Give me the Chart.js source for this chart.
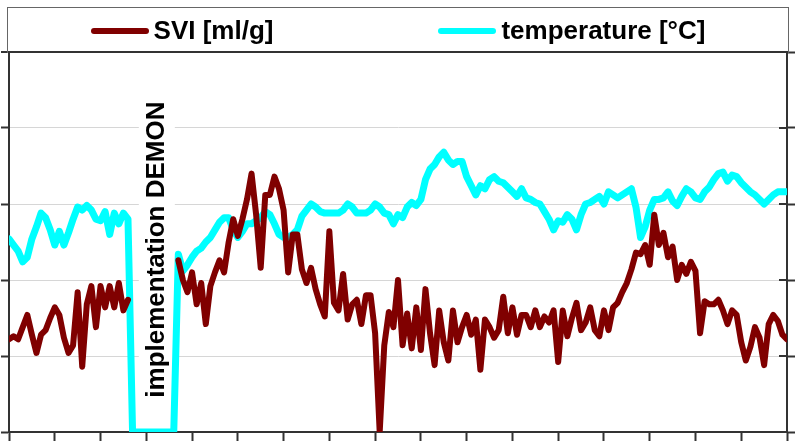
<!DOCTYPE html>
<html><head><meta charset="utf-8">
<script src="https://cdn.jsdelivr.net/npm/chart.js@4/dist/chart.umd.min.js"></script>
<style>
html,body{margin:0;padding:0;background:#fff;}
#wrap{position:relative;width:803px;height:448px;overflow:hidden;background:#fff;}
canvas{position:absolute;left:0;top:0;}
#legend{position:absolute;left:7px;top:7px;width:782px;height:46px;box-sizing:border-box;border:1px solid #666;border-bottom:none;display:flex;justify-content:center;align-items:center;gap:165px;font:bold 26px "Liberation Sans",Arial,sans-serif;color:#000;}
.item{display:flex;align-items:center;white-space:nowrap;}
.swatch{width:58px;height:6px;border-radius:3px;margin-right:5px;}
</style></head>
<body><div id="wrap"><canvas id="c" width="803" height="448"></canvas><div id="legend"></div></div>
<script>
// SVI [ml/g], one sample per x step (null = no measurement)
const svi = [
 61,63,61,69,77,64,52,64,67,75,
 82,77,62,52,57,92,43,84,96,69,
 96,82,96,82,98,80,87,null,null,null,
 null,null,null,null,null,null,null,113,100,92,
 105,84,98,71,96,105,113,105,125,140,
 129,140,153,170,143,108,156,156,168,160,
 146,105,130,130,107,98,108,94,84,76,
 132,85,80,104,74,84,87,71,90,90,
 65,0,57,79,69,100,57,78,55,82,
 54,94,65,44,80,59,47,80,59,69,
 77,64,74,41,74,69,62,67,89,65,
 82,64,77,77,69,80,69,76,72,80,
 46,80,63,75,85,67,72,82,67,63,
 80,67,82,85,92,98,107,118,117,123,
 110,143,123,131,115,122,100,110,104,112,
 106,65,86,84,84,87,80,71,80,77,
 59,47,56,69,62,44,71,77,73,64,
 61
];
// temperature [°C]
const temperature = [
 12.7,12.3,11.9,11.2,11.5,12.7,13.5,14.4,14.1,13.3,
 12.3,13.2,12.3,13.1,14.0,14.8,14.6,14.9,14.6,14.0,
 13.9,14.5,13.0,14.4,13.7,14.4,14.0,0,0,0,
 0,0,0,0,0,0,0,11.7,10.6,11.0,
 11.5,11.9,12.1,12.5,12.8,13.3,13.8,14.1,14.1,13.3,
 12.8,13.2,13.7,13.7,13.9,14.1,14.5,14.3,13.7,13.0,
 12.8,12.8,13.0,13.3,14.2,14.6,15.0,14.8,14.5,14.4,
 14.4,14.4,14.4,14.6,15.0,14.8,14.4,14.4,14.4,14.6,
 15.0,14.8,14.4,14.3,13.7,14.3,14.1,14.8,15.1,14.9,
 15.3,16.6,17.3,17.6,18.1,18.4,17.9,17.6,17.8,17.8,
 16.8,16.2,15.6,16.2,16.0,16.6,16.8,16.5,16.4,16.1,
 15.8,15.5,16.0,15.4,15.3,15.1,15.0,14.5,14.0,13.3,
 13.9,13.8,14.3,14.0,13.3,14.3,15.0,15.1,15.3,15.5,
 15.0,15.8,15.6,15.4,15.6,15.8,16.0,14.8,12.8,13.5,
 14.6,15.3,15.3,15.4,15.8,15.2,14.9,15.5,16.0,15.8,
 15.4,15.3,15.8,16.1,16.6,17.0,17.1,16.5,16.9,16.8,
 16.4,16.1,15.8,15.6,15.3,15.0,15.3,15.6,15.8,15.8,
 15.8
];
const seriesNames = ['SVI [ml/g]', 'temperature [°C]'];
const sviAxis = {min: 0, max: 250, step: 50};
const tempAxis = {min: 0, max: 25, step: 5};
const xAxis = {min: 0, max: 170, step: 10};
const noteText = 'implementation DEMON';
const noteAt = {x: 32.3, y: 120};

const toPts = arr => arr.map((v, i) => ({x: i, y: v}));
const axisDark = '#333';

const annot = {
  id: 'annot',
  beforeDatasetsDraw(chart) {
    const {ctx, scales} = chart;
    const cx = scales.x.getPixelForValue(noteAt.x);
    const cy = scales.y.getPixelForValue(noteAt.y);
    ctx.save();
    ctx.font = 'bold 26px "Liberation Sans", Arial, sans-serif';
    const w = ctx.measureText(noteText).width;
    ctx.translate(cx, cy);
    ctx.rotate(-Math.PI / 2);
    ctx.fillStyle = '#fff';
    ctx.fillRect(-w / 2 - 18, -18, w + 36, 36);
    ctx.fillStyle = '#000';
    ctx.textAlign = 'center';
    ctx.textBaseline = 'middle';
    ctx.fillText(noteText, 0, 0);
    ctx.restore();
  },
  afterDraw(chart) {
    // inner half of the right-axis tick marks (they cross the axis line)
    const {ctx} = chart;
    const s = chart.scales.y1;
    ctx.save();
    ctx.strokeStyle = axisDark;
    ctx.lineWidth = 2;
    s.ticks.forEach((t, i) => {
      const py = Math.round(s.getPixelForTick(i));
      ctx.beginPath();
      ctx.moveTo(s.left - 8, py);
      ctx.lineTo(s.left, py);
      ctx.stroke();
    });
    ctx.restore();
  }
};

const chart = new Chart(document.getElementById('c'), {
  type: 'line',
  data: {
    datasets: [
      {label: seriesNames[0], data: toPts(svi), yAxisID: 'y', borderColor: '#800000', backgroundColor: '#800000',
       borderWidth: 6, pointRadius: 0, tension: 0, spanGaps: false, borderJoinStyle: 'round', borderCapStyle: 'round'},
      {label: seriesNames[1], data: toPts(temperature), yAxisID: 'y1', borderColor: '#00ffff', backgroundColor: '#00ffff',
       borderWidth: 7, pointRadius: 0, tension: 0, borderJoinStyle: 'round', borderCapStyle: 'round'}
    ]
  },
  options: {
    responsive: false,
    animation: false,
    devicePixelRatio: 1,
    layout: {padding: {left: 1, right: 8, top: 52, bottom: 7}},
    plugins: {legend: {display: false}, tooltip: {enabled: false}},
    scales: {
      x: {type: 'linear', min: xAxis.min, max: xAxis.max,
          ticks: {display: false, stepSize: xAxis.step},
          grid: {drawOnChartArea: false, drawTicks: true, tickLength: 9, tickColor: axisDark, tickWidth: 2},
          border: {display: true, color: axisDark, width: 2}},
      y: {position: 'left', min: sviAxis.min, max: sviAxis.max,
          ticks: {display: false, stepSize: sviAxis.step},
          grid: {color: c => (c.tick && c.tick.value === sviAxis.max) ? axisDark : '#d6d6d6',
                 lineWidth: c => (c.tick && c.tick.value === sviAxis.max) ? 2 : 1,
                 tickLength: 8, tickColor: axisDark, tickWidth: 2},
          border: {display: true, color: axisDark, width: 2}},
      y1: {position: 'right', min: tempAxis.min, max: tempAxis.max,
          ticks: {display: false, stepSize: tempAxis.step},
          grid: {drawOnChartArea: false, tickLength: 8, tickColor: axisDark, tickWidth: 2},
          border: {display: true, color: axisDark, width: 2}}
    }
  },
  plugins: [annot]
});

const legend = document.getElementById('legend');
chart.data.datasets.forEach(ds => {
  const it = document.createElement('div'); it.className = 'item';
  const sw = document.createElement('span'); sw.className = 'swatch'; sw.style.background = ds.borderColor;
  const tx = document.createElement('span'); tx.textContent = ds.label;
  it.appendChild(sw); it.appendChild(tx); legend.appendChild(it);
});
</script>
</body></html>
